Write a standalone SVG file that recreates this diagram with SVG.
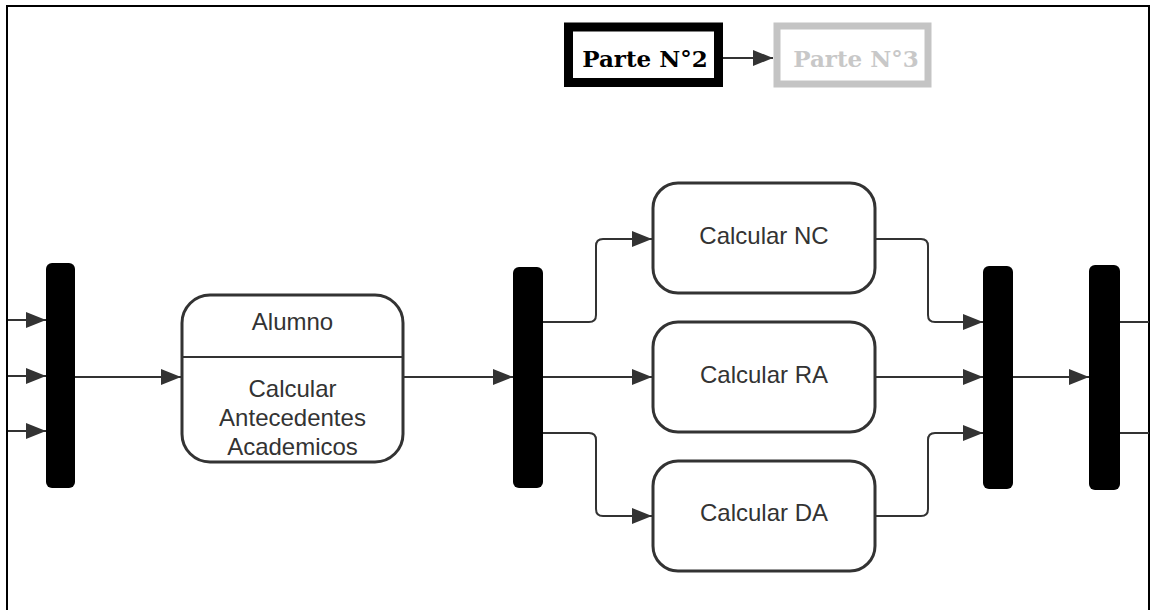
<svg xmlns="http://www.w3.org/2000/svg" width="1152" height="610" viewBox="0 0 1152 610">
  <style>
    .frame { fill: none; stroke: #000; stroke-width: 2; }
    .bar { fill: #000; }
    .node { fill: #fff; stroke: #333; stroke-width: 3; }
    .edge { fill: none; stroke: #333; stroke-width: 2; marker-end: url(#arrow); }
    .plain { fill: none; stroke: #333; stroke-width: 2; }
    .label { font-family: "Liberation Sans", Arial, sans-serif; font-size: 24px; fill: #333; text-anchor: middle; }
    .part { font-family: "DejaVu Serif", "Liberation Serif", serif; font-weight: bold; font-size: 23px; text-anchor: middle; }
  </style>
  <defs>
    <marker id="arrow" markerUnits="userSpaceOnUse" markerWidth="20" markerHeight="16" refX="20" refY="8" orient="auto">
      <path d="M0,0 L20,8 L0,16 z" fill="#333"/>
    </marker>
  </defs>

  <rect width="1152" height="610" fill="#fff"/>
  <path class="frame" d="M7,620 V6 H1149 V620"/>

  <!-- part navigation -->
  <g id="parte2">
    <rect x="568.5" y="27" width="150" height="55.5" fill="#fff" stroke="#000" stroke-width="9"/>
    <text class="part" x="645" y="67" fill="#000">Parte N°2</text>
  </g>
  <g id="parte3">
    <rect x="777" y="26" width="151" height="58" fill="#fff" stroke="#c4c4c4" stroke-width="7"/>
    <text class="part" x="856" y="67" fill="#c8c8c8">Parte N°3</text>
  </g>

  <!-- synchronisation bars -->
  <g id="fork1"><rect class="bar" x="46" y="263" width="29" height="225" rx="6"/></g>
  <g id="fork2"><rect class="bar" x="513" y="267" width="30" height="221" rx="6"/></g>
  <g id="join1"><rect class="bar" x="983" y="266" width="30" height="223" rx="6"/></g>
  <g id="join2"><rect class="bar" x="1089" y="265" width="31" height="225" rx="6"/></g>

  <!-- activities -->
  <g id="alumno">
    <rect class="node" x="182" y="295" width="221" height="167" rx="28"/>
    <line class="plain" x1="182" y1="357" x2="403" y2="357" stroke-width="3"/>
    <text class="label" x="292.5" y="330">Alumno</text>
    <text class="label" x="292.5" y="397">Calcular</text>
    <text class="label" x="292.5" y="426">Antecedentes</text>
    <text class="label" x="292.5" y="455">Academicos</text>
  </g>
  <g id="calcular-nc">
    <rect class="node" x="653" y="183" width="222" height="110" rx="25"/>
    <text class="label" x="764" y="244">Calcular NC</text>
  </g>
  <g id="calcular-ra">
    <rect class="node" x="653" y="322" width="222" height="110" rx="25"/>
    <text class="label" x="764" y="383">Calcular RA</text>
  </g>
  <g id="calcular-da">
    <rect class="node" x="653" y="461" width="222" height="110" rx="25"/>
    <text class="label" x="764" y="521">Calcular DA</text>
  </g>

  <!-- connectors -->
  <g id="connectors">
    <path class="edge" d="M723,58 H773"/>
    <path class="edge" d="M8,320 H46"/>
    <path class="edge" d="M8,376 H46"/>
    <path class="edge" d="M8,431 H46"/>
    <path class="edge" d="M75,377 H181"/>
    <path class="edge" d="M403,377 H513"/>
    <path class="edge" d="M543,322 H589 Q596,322 596,315 V246 Q596,239 603,239 H652"/>
    <path class="edge" d="M543,377 H652"/>
    <path class="edge" d="M543,433 H589 Q596,433 596,440 V509 Q596,516 603,516 H652"/>
    <path class="edge" d="M875,239 H921 Q928,239 928,246 V315 Q928,322 935,322 H983"/>
    <path class="edge" d="M875,377 H983"/>
    <path class="edge" d="M875,516 H921 Q928,516 928,509 V440 Q928,433 935,433 H983"/>
    <path class="edge" d="M1013,377 H1089"/>
    <path class="plain" d="M1120,322 H1149"/>
    <path class="plain" d="M1120,433 H1149"/>
  </g>
</svg>
